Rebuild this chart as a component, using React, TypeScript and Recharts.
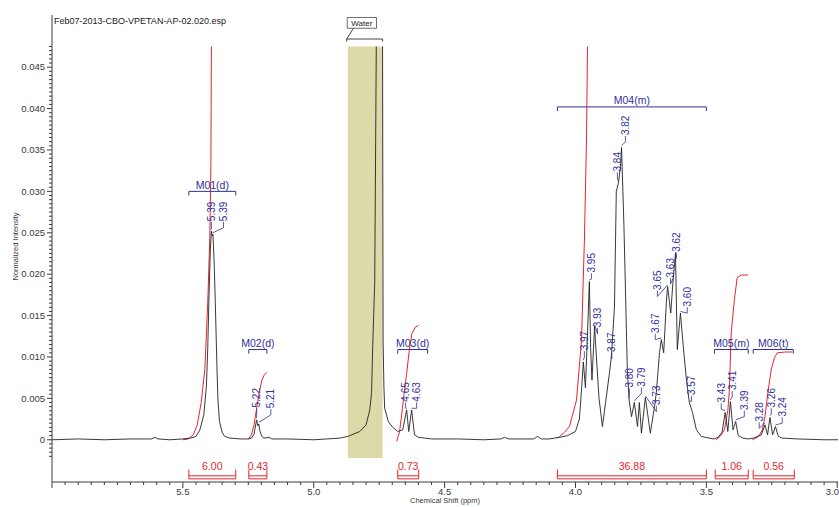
import React from 'react';
import { LineChart, Line, XAxis, YAxis, ReferenceArea, ReferenceLine, ReferenceDot } from 'recharts';

type Pt = { ppm: number; y: number };

// spectrum as [ppm, normalized intensity]
// left part runs up to where the water peak leaves the frame
const spectrumLeft = [
  [6.0, 0], [5.9, 0.0001], [5.8, 0], [5.7, 0.0001], [5.62, 0.0001], [5.607, 0.0003], [5.595, 0.0001],
  [5.55, 0], [5.5, 0.0001], [5.47, 0.0002], [5.45, 0.0004], [5.435, 0.0012], [5.42, 0.003],
  [5.41, 0.0065], [5.405, 0.011], [5.4, 0.0175], [5.395, 0.023], [5.391, 0.0252], [5.388, 0.0246],
  [5.385, 0.0248], [5.38, 0.021], [5.376, 0.0165], [5.37, 0.009], [5.366, 0.0048], [5.36, 0.0022],
  [5.35, 0.0009], [5.34, 0.0004], [5.32, 0.0002], [5.28, 0.0001],
  [5.25, 0.0001], [5.238, 0.0002], [5.228, 0.0007], [5.222, 0.0018], [5.218, 0.0024], [5.214, 0.0017],
  [5.21, 0.0019], [5.205, 0.001], [5.198, 0.0004], [5.19, 0.0002], [5.17, 0.0003], [5.16, 0.0001],
  [5.1, 0.0001], [5.0, 0], [4.95, 0.0001], [4.9, 0.0002], [4.87, 0.0004], [4.824, 0.001],
  [4.8, 0.0018], [4.786, 0.0036], [4.779, 0.0057], [4.775, 0.011], [4.767, 0.019], [4.761, 0.0475],
];

// right part starts where the water peak comes back into the frame
const spectrumRight = [
  [4.737, 0.0475], [4.735, 0.012], [4.732, 0.0065], [4.729, 0.0038], [4.715, 0.0022], [4.698, 0.0015],
  [4.679, 0.001], [4.66, 0.0012], [4.645, 0.0036], [4.637, 0.001], [4.626, 0.0036], [4.615, 0.0006],
  [4.6, 0.0003], [4.55, 0.0001], [4.45, 0.0001], [4.35, 0], [4.285, 0.0001], [4.271, 0.0003],
  [4.255, 0.0001], [4.16, 0.0001], [4.145, 0.0004], [4.13, 0.0001], [4.1, 0.0001], [4.06, 0.0003],
  [4.03, 0.0005], [4.0, 0.001], [3.985, 0.0025], [3.977, 0.006], [3.97, 0.0094], [3.962, 0.0063],
  [3.955, 0.012], [3.947, 0.0191], [3.942, 0.011], [3.937, 0.0072], [3.927, 0.0137], [3.92, 0.01],
  [3.91, 0.005], [3.897, 0.0016], [3.885, 0.0045], [3.87, 0.0081], [3.863, 0.01], [3.851, 0.016],
  [3.844, 0.03], [3.836, 0.031], [3.828, 0.033], [3.824, 0.0353], [3.815, 0.026], [3.809, 0.018],
  [3.802, 0.0085], [3.795, 0.0048], [3.786, 0.0028], [3.775, 0.0045], [3.763, 0.0016], [3.756, 0.0045],
  [3.748, 0.0008], [3.733, 0.0051], [3.714, 0.0008], [3.698, 0.004], [3.691, 0.0057], [3.679, 0.0105],
  [3.672, 0.0121], [3.663, 0.0105], [3.652, 0.017], [3.648, 0.0185], [3.636, 0.0153], [3.627, 0.0193],
  [3.618, 0.0225], [3.611, 0.0109], [3.599, 0.0153], [3.588, 0.0112], [3.576, 0.0072], [3.565, 0.0045],
  [3.553, 0.0033], [3.538, 0.0012], [3.519, 0.0004], [3.49, 0.0002], [3.47, 0.0001], [3.455, 0.0003],
  [3.44, 0.0009], [3.428, 0.0033], [3.418, 0.001], [3.408, 0.0046], [3.398, 0.0012], [3.388, 0.0022],
  [3.378, 0.0005], [3.36, 0.0002], [3.34, 0.0001], [3.32, 0.0002], [3.29, 0.0006], [3.276, 0.0018],
  [3.266, 0.0006], [3.257, 0.0027], [3.247, 0.0006], [3.236, 0.0016], [3.225, 0.0004], [3.21, 0.0002],
  [3.15, 0.0001], [3.05, 0], [2.997, 0],
];

// integral curves (red), same units as the plot
const integralM01 = [[5.5, 0], [5.48, 0.0001], [5.46, 0.0006], [5.445, 0.0018], [5.43, 0.0045], [5.416, 0.0085], [5.405, 0.0165], [5.397, 0.0245], [5.393, 0.033], [5.391, 0.0475]];
const integralM02 = [[5.25, 0.0001], [5.238, 0.0006], [5.228, 0.0018], [5.218, 0.0038], [5.208, 0.0058], [5.198, 0.0072], [5.188, 0.0079], [5.18, 0.0081]];
const integralM03 = [[4.683, -0.0002], [4.672, 0.001], [4.664, 0.003], [4.655, 0.0055], [4.645, 0.008], [4.635, 0.0108], [4.625, 0.0128], [4.612, 0.0136], [4.6, 0.0138]];
const integralM04 = [[4.069, 0.0002], [4.061, 0.0004], [4.042, 0.0009], [4.023, 0.0016], [3.996, 0.0048], [3.977, 0.012], [3.966, 0.024], [3.958, 0.0362], [3.954, 0.0475]];
const integralM05 = [[3.462, 0], [3.445, 0.0005], [3.431, 0.0012], [3.418, 0.0035], [3.412, 0.006], [3.405, 0.0129], [3.393, 0.0169], [3.382, 0.0196], [3.366, 0.0199], [3.34, 0.0199]];
const integralM06 = [[3.324, 0], [3.3, 0.0004], [3.286, 0.0012], [3.275, 0.003], [3.267, 0.0052], [3.252, 0.0085], [3.24, 0.0099], [3.229, 0.0105], [3.2, 0.0106], [3.172, 0.0106]];

// peak picks: text, peak ppm, peak height, label ppm, label foot
const peakLabels: [string, number, number, number, number][] = [
  ['5.39', 5.391, 0.0252, 5.391, 0.0264],
  ['5.39', 5.386, 0.0248, 5.345, 0.0264],
  ['5.22', 5.218, 0.0024, 5.218, 0.0039],
  ['5.21', 5.21, 0.0019, 5.164, 0.0038],
  ['4.65', 4.645, 0.0036, 4.649, 0.0046],
  ['4.63', 4.626, 0.0036, 4.607, 0.0046],
  ['3.97', 3.97, 0.0094, 3.966, 0.0108],
  ['3.95', 3.947, 0.0191, 3.939, 0.0202],
  ['3.93', 3.927, 0.0137, 3.916, 0.0136],
  ['3.87', 3.863, 0.01, 3.861, 0.0106],
  ['3.84', 3.836, 0.031, 3.84, 0.0324],
  ['3.82', 3.824, 0.0353, 3.809, 0.0368],
  ['3.80', 3.795, 0.0048, 3.794, 0.0063],
  ['3.79', 3.775, 0.0045, 3.748, 0.0064],
  ['3.73', 3.733, 0.0051, 3.691, 0.0042],
  ['3.67', 3.672, 0.0121, 3.695, 0.0129],
  ['3.65', 3.648, 0.0185, 3.687, 0.0181],
  ['3.63', 3.627, 0.0193, 3.637, 0.0196],
  ['3.62', 3.618, 0.0225, 3.615, 0.0227],
  ['3.60', 3.599, 0.0153, 3.573, 0.0161],
  ['3.57', 3.565, 0.0045, 3.557, 0.0054],
  ['3.43', 3.428, 0.0033, 3.443, 0.0045],
  ['3.41', 3.408, 0.0046, 3.401, 0.006],
  ['3.39', 3.388, 0.0022, 3.355, 0.0036],
  ['3.28', 3.276, 0.0018, 3.298, 0.0022],
  ['3.26', 3.257, 0.0027, 3.252, 0.0039],
  ['3.24', 3.236, 0.0016, 3.21, 0.0028],
];

// multiplets: name, from ppm, to ppm, bracket level
const multiplets: [string, number, number, number][] = [
  ['M01(d)', 5.477, 5.298, 0.03],
  ['M02(d)', 5.248, 5.179, 0.0109],
  ['M03(d)', 4.679, 4.565, 0.0109],
  ['M04(m)', 4.069, 3.5, 0.0402],
  ['M05(m)', 3.469, 3.34, 0.0109],
  ['M06(t)', 3.321, 3.168, 0.0109],
];

const integralValues = ['6.00', '0.43', '0.73', '36.88', '1.06', '0.56'];
const integralFrom = [5.477, 5.248, 4.679, 4.069, 3.466, 3.321];
const integralTo = [5.298, 5.179, 4.599, 3.5, 3.34, 3.164];

const waterRange = [4.87, 4.737];

const xTicks = Array.from({ length: 61 }, (_, i) => +(3 + i * 0.05).toFixed(2));
const yTicks = Array.from({ length: 100 }, (_, i) => +(-0.002 + i * 0.0005).toFixed(4));

const BLUE = '#30309a';
const RED = '#e5262e';
const INK = '#3a3a3a';
const FONT = '"Liberation Sans", Arial, sans-serif';

const toPts = (rows: number[][]): Pt[] => rows.map(([ppm, y]) => ({ ppm, y }));

const XTick = (p: any) => {
  const v = p.payload.value;
  const major = Math.abs(v * 2 - Math.round(v * 2)) < 1e-6;
  const last = v < 3.01;
  return (
    <g>
      <line x1={p.x} x2={p.x} y1={p.y} y2={p.y + (major ? 6 : 3)} stroke={INK} />
      {major && v < 5.9 && (
        <text x={last ? 839 : p.x} y={p.y + 13} textAnchor={last ? 'end' : 'middle'} fontSize={9.5} fill={INK} fontFamily={FONT}>
          {v.toFixed(1)}
        </text>
      )}
    </g>
  );
};

const YTick = (p: any) => {
  const v = p.payload.value;
  const major = v >= 0 && Math.abs(v * 200 - Math.round(v * 200)) < 1e-6;
  return (
    <g>
      <line x1={p.x} x2={p.x - (major ? 5 : 3)} y1={p.y} y2={p.y} stroke={INK} />
      {major && (
        <text x={p.x - 7} y={p.y + 3.3} textAnchor="end" fontSize={9.5} fill={INK} fontFamily={FONT}>
          {v === 0 ? '0' : v.toFixed(3)}
        </text>
      )}
    </g>
  );
};

const XLabel = (p: any) => {
  const vb = p.viewBox;
  return (
    <text x={vb.x + vb.width / 2} y={vb.y + 21} textAnchor="middle" fontSize={7.5} fill={INK} fontFamily={FONT}>
      Chemical Shift (ppm)
    </text>
  );
};

const YLabel = (p: any) => {
  const vb = p.viewBox;
  const cy = vb.y + vb.height / 2 - 2;
  return (
    <text x={15} y={cy} textAnchor="middle" transform={`rotate(-90 15 ${cy})`} dy={2.5} fontSize={7.5} fill={INK} fontFamily={FONT}>
      Normalized Intensity
    </text>
  );
};

const vText = (text: string) => (p: any) => (
  <text x={p.cx} y={p.cy} dy={3.5} transform={`rotate(-90 ${p.cx} ${p.cy})`} fontSize={10} fill={BLUE} fontFamily={FONT}>
    {text}
  </text>
);

const hText = (text: string, color: string, size: number) => (p: any) => (
  <text x={p.cx} y={p.cy} textAnchor="middle" fontSize={size} fill={color} fontFamily={FONT}>
    {text}
  </text>
);

export default function App() {
  const seg = (a: number, b: number, c: number, d: number) => [{ x: a, y: b }, { x: c, y: d }];
  return (
    <div style={{ position: 'absolute', left: 0, top: 0, width: 839, height: 507, background: '#fff' }}>
      <LineChart width={839} height={507} margin={{ top: 15, right: 1, left: 0, bottom: 0 }}>
        <XAxis
          dataKey="ppm"
          type="number"
          domain={[2.997, 6.0]}
          reversed
          allowDataOverflow
          ticks={xTicks}
          interval={0}
          tickSize={0}
          tickMargin={0}
          tickLine={false}
          tick={<XTick />}
          height={25}
          stroke={INK}
          label={<XLabel />}
        />
        <YAxis
          type="number"
          domain={[-0.0051, 0.0513]}
          allowDataOverflow
          ticks={yTicks}
          interval={0}
          tickSize={0}
          tickMargin={0}
          tickLine={false}
          tick={<YTick />}
          width={52}
          stroke={INK}
          label={<YLabel />}
        />

        <ReferenceArea x1={waterRange[0]} x2={waterRange[1]} y1={-0.0022} y2={0.0475} fill="#dcdaa8" fillOpacity={1} stroke="none" />

        {/* water label */}
        <ReferenceArea
          x1={4.872}
          x2={4.76}
          y1={0.0497}
          y2={0.051}
          fill="#fff"
          fillOpacity={1}
          stroke="#444"
          strokeWidth={0.8}
          label={{ value: 'Water', position: 'center', fontSize: 8, fill: '#222', fontFamily: FONT }}
        />
        <ReferenceLine segment={seg(4.848, 0.0497, 4.874, 0.0484)} stroke="#444" />
        <ReferenceLine segment={seg(4.874, 0.0484, 4.737, 0.0484)} stroke="#444" />
        <ReferenceLine segment={seg(4.874, 0.0484, 4.874, 0.0481)} stroke="#444" />
        <ReferenceLine segment={seg(4.737, 0.0484, 4.737, 0.0481)} stroke="#444" />

        {[integralM01, integralM02, integralM03, integralM04, integralM05, integralM06].map((d, i) => (
          <Line key={`int-${i}`} data={toPts(d)} dataKey="y" stroke={RED} strokeWidth={1} dot={false} isAnimationActive={false} />
        ))}
        <Line data={toPts(spectrumLeft)} dataKey="y" stroke="#222" strokeWidth={0.9} dot={false} isAnimationActive={false} />
        <Line data={toPts(spectrumRight)} dataKey="y" stroke="#222" strokeWidth={0.9} dot={false} isAnimationActive={false} />

        {/* multiplet brackets */}
        {multiplets.map(([name, a, b, lv]) => (
          <React.Fragment key={name}>
            <ReferenceLine segment={seg(a, lv, b, lv)} stroke={BLUE} />
            <ReferenceLine segment={seg(a, lv, a, lv - 0.0005)} stroke={BLUE} />
            <ReferenceLine segment={seg(b, lv, b, lv - 0.0005)} stroke={BLUE} />
            <ReferenceDot x={(a + b) / 2} y={lv + 0.0003} r={0} ifOverflow="visible" shape={hText(name, BLUE, 10.5)} />
          </React.Fragment>
        ))}

        {/* peak picks */}
        {peakLabels.map(([t, pp, ph, lp, lb], i) => (
          <React.Fragment key={`pk-${i}`}>
            <ReferenceLine segment={seg(pp, ph + 0.0002, lp, lb - 0.0008)} stroke={BLUE} strokeWidth={0.8} />
            <ReferenceLine segment={seg(lp, lb - 0.0008, lp, lb - 0.0001)} stroke={BLUE} strokeWidth={0.8} />
            <ReferenceDot x={lp} y={lb} r={0} ifOverflow="visible" shape={vText(t)} />
          </React.Fragment>
        ))}

        {/* integration brackets */}
        {integralValues.map((v, i) => {
          const a = integralFrom[i];
          const b = integralTo[i];
          return (
            <React.Fragment key={`ib-${i}`}>
              <ReferenceLine segment={seg(a, -0.00435, b, -0.00435)} stroke={RED} />
              <ReferenceLine segment={seg(a, -0.00472, b, -0.00472)} stroke={RED} />
              <ReferenceLine segment={seg(a, -0.0036, a, -0.00472)} stroke={RED} />
              <ReferenceLine segment={seg(b, -0.0036, b, -0.00472)} stroke={RED} />
              <ReferenceDot x={(a + b) / 2} y={-0.0036} r={0} ifOverflow="visible" shape={hText(v, RED, 10.5)} />
            </React.Fragment>
          );
        })}
      </LineChart>
      <div style={{ position: 'absolute', left: 54, top: 16, fontSize: 9, fontFamily: FONT, color: '#222', whiteSpace: 'nowrap' }}>
        Feb07-2013-CBO-VPETAN-AP-02.020.esp
      </div>
    </div>
  );
}
